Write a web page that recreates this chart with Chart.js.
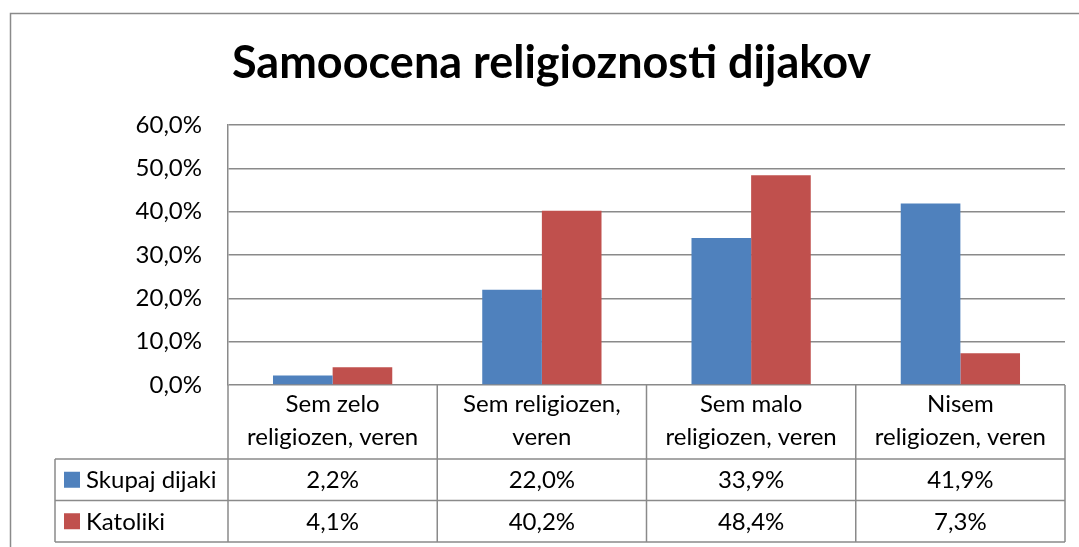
<!DOCTYPE html>
<html>
<head>
<meta charset="utf-8">
<script src="https://cdn.jsdelivr.net/npm/chart.js@4.4.1/dist/chart.umd.min.js"></script>
<style>
    html, body { margin: 0; padding: 0; background: #fff; }
    #wrap { width: 1079px; height: 547px; }
</style>
</head>
<body>
<div id="wrap"><canvas id="chart" width="1079" height="547"></canvas></div>
<script>
// Samoocena religioznosti dijakov - podatki
const categories = [
    ['Sem zelo', 'religiozen, veren'],
    ['Sem religiozen,', 'veren'],
    ['Sem malo', 'religiozen, veren'],
    ['Nisem', 'religiozen, veren']
];
const seriesNames = ['Skupaj dijaki', 'Katoliki'];
const skupajDijaki = [2.2, 22.0, 33.9, 41.9];
const katoliki = [4.1, 40.2, 48.4, 7.3];
const seriesColors = ['#4F81BD', '#C0504D'];
const yMin = 0, yMax = 60, yStep = 10;

const lineColor = '#8a8a8a';
const textFont = 'Lato, "Noto Sans", sans-serif';

// 60 -> "60,0%"
function fmt(v) {
    return v.toFixed(1).replace('.', ',') + '%';
}

/**
 * Okvir grafikona
 */
const outerBorder = {
    id: 'outerBorder',
    beforeDraw(chart) {
        const ctx = chart.ctx;
        ctx.save();
        ctx.fillStyle = '#fff';
        ctx.fillRect(0, 0, chart.width, chart.height);
        ctx.strokeStyle = lineColor;
        ctx.lineWidth = 1.5;
        ctx.strokeRect(10.5, 13.5, chart.width + 20, chart.height + 20);
        ctx.restore();
    }
};

/**
 * Podatkovna tabela pod osjo x
 */
const dataTable = {
    id: 'dataTable',
    afterDraw(chart) {
        const { ctx, chartArea } = chart;
        const xs = chart.scales.x;
        const n = categories.length;
        const colW = (chartArea.right - chartArea.left) / n;
        const top = chartArea.bottom;
        const y1 = xs.bottom;
        const rowH = 41.5;
        const bottom = y1 + rowH * seriesNames.length;
        const legendLeft = 55;

        ctx.save();
        ctx.strokeStyle = lineColor;
        ctx.lineWidth = 1.5;
        ctx.beginPath();
        for (let r = 0; r <= seriesNames.length; r++) {
            const y = y1 + r * rowH;
            ctx.moveTo(legendLeft, y);
            ctx.lineTo(chartArea.right, y);
        }
        for (let i = 0; i <= n; i++) {
            const x = i < n ? xs.getPixelForValue(i) - colW / 2 : xs.getPixelForValue(n - 1) + colW / 2;
            ctx.moveTo(x, top);
            ctx.lineTo(x, bottom);
        }
        ctx.moveTo(legendLeft, y1);
        ctx.lineTo(legendLeft, bottom);
        ctx.stroke();

        ctx.font = '24px ' + textFont;
        ctx.textBaseline = 'middle';
        chart.data.datasets.forEach((ds, s) => {
            const cy = y1 + rowH * s + rowH / 2;
            ctx.fillStyle = ds.backgroundColor;
            ctx.fillRect(64, cy - 8, 16, 16);
            ctx.fillStyle = '#000';
            ctx.textAlign = 'left';
            ctx.fillText(ds.label, 86, cy + 1);
            ctx.textAlign = 'center';
            ds.data.forEach((v, i) => {
                ctx.fillText(fmt(v), xs.getPixelForValue(i), cy + 1);
            });
        });
        ctx.restore();
    }
};

const ctx = document.getElementById('chart').getContext('2d');
new Chart(ctx, {
    type: 'bar',
    data: {
        labels: categories,
        datasets: [{
            label: seriesNames[0],
            data: skupajDijaki,
            backgroundColor: seriesColors[0]
        }, {
            label: seriesNames[1],
            data: katoliki,
            backgroundColor: seriesColors[1]
        }]
    },
    options: {
        responsive: false,
        animation: false,
        events: [],
        categoryPercentage: 0.57,
        barPercentage: 1.0,
        layout: {
            padding: { left: 24, right: 0, top: 0, bottom: 88 }
        },
        plugins: {
            legend: { display: false },
            tooltip: { enabled: false },
            title: {
                display: true,
                text: 'Samoocena religioznosti dijakov',
                color: '#000',
                font: { family: textFont, size: 45, weight: 'bold', lineHeight: 1.2 },
                padding: { top: 36, bottom: 35 }
            }
        },
        scales: {
            x: {
                grid: { display: false, drawTicks: false },
                border: { display: false },
                ticks: {
                    color: '#000',
                    padding: 3,
                    maxRotation: 0,
                    autoSkip: false,
                    font: { family: textFont, size: 24, lineHeight: 1.375 }
                },
                afterFit: scale => { scale.height = 74; }
            },
            y: {
                min: yMin,
                max: yMax,
                grid: { color: lineColor, lineWidth: 1.5, drawTicks: false },
                border: { display: true, color: lineColor, width: 1.5 },
                ticks: {
                    stepSize: yStep,
                    color: '#000',
                    padding: 26,
                    font: { family: textFont, size: 24 },
                    callback: v => fmt(v)
                },
                afterFit: scale => { scale.width = 204; }
            },
            yR: {
                position: 'right',
                grid: { display: false },
                border: { display: false },
                ticks: { display: false },
                afterFit: scale => { scale.width = 14; }
            }
        }
    },
    plugins: [outerBorder, dataTable]
});
</script>
</body>
</html>
